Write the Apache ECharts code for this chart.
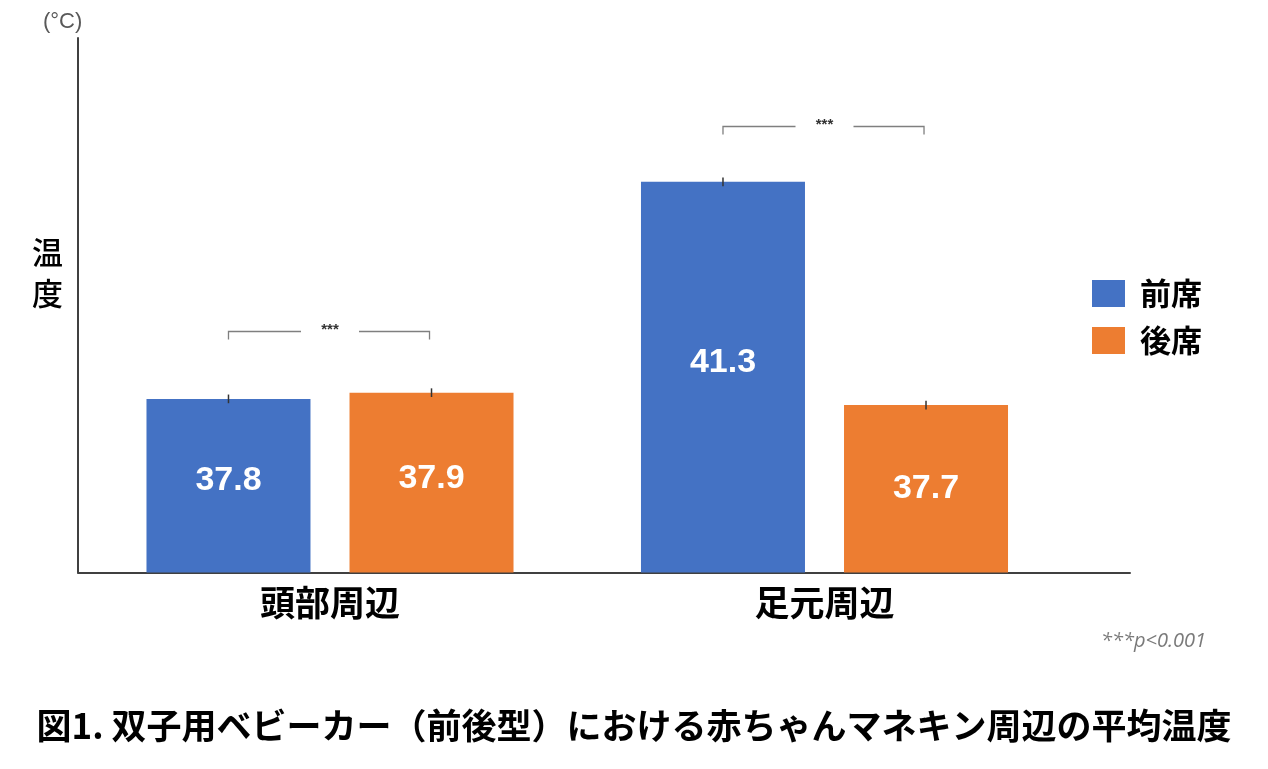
<!DOCTYPE html>
<html>
<head>
<meta charset="utf-8">
<script src="https://cdn.jsdelivr.net/npm/echarts@6/dist/echarts.min.js"></script>
<style>html,body{margin:0;padding:0;background:#fff}#c{width:1268px;height:769px}</style>
</head>
<body>
<div id="c"></div>
<script>
// ---- data ----
const categories = ['頭部周辺', '足元周辺'];
const seriesNames = ['前席', '後席'];
const frontValues = [37.8, 41.3];
const rearValues = [37.9, 37.7];
const frontErrors = [0.07, 0.07];
const rearErrors = [0.07, 0.07];
const sigLevels = [38.9, 42.2];
const sigMarks = ['***', '***'];
const yMin = 35;
const yMax = 43.62;
const noteText = '***p<0.001';
const unitText = '(°C)';
const yName = '温度';
const chartTitle = '図1. 双子用ベビーカー（前後型）における赤ちゃんマネキン周辺の平均温度';

// ---- style ----
const BLUE = '#4472C4', ORANGE = '#ED7D31';
const BAR_W = 164, BAR_GAP = 0.238;
const HALF = (BAR_W + BAR_W * BAR_GAP) / 2;
const JP = '"Noto Sans CJK JP", "Noto Sans", sans-serif';
const labelOffsets = [[[0, -5], [0, -15]], [[0, -4], [0, 0]]];

const chart = echarts.init(document.getElementById('c'));

function errRender(sign) {
  return function (params, api) {
    const i = api.value(0);
    const v = api.value(1), e = api.value(2);
    const top = api.coord([i, v + e]);
    const bot = api.coord([i, v - e]);
    const x = top[0] + sign * HALF;
    return {
      type: 'line',
      shape: { x1: x, y1: top[1], x2: x, y2: bot[1] },
      style: { stroke: '#333', lineWidth: 1.5 }
    };
  };
}

function sigRender(params, api) {
  const i = api.value(0);
  const c = api.coord([i, api.value(1)]);
  const cx = c[0], y = Math.round(c[1]) + 0.5;
  const l = cx - HALF, r = cx + HALF - 2, g = 29, t = 8;
  return {
    type: 'group',
    children: [
      { type: 'polyline', shape: { points: [[l, y + t], [l, y], [cx - g, y]] }, style: { stroke: '#7f7f7f', lineWidth: 1.3, fill: null } },
      { type: 'polyline', shape: { points: [[cx + g, y], [r, y], [r, y + t]] }, style: { stroke: '#7f7f7f', lineWidth: 1.3, fill: null } },
      { type: 'text', style: { text: sigMarks[params.dataIndex], x: cx, y: y - 2, align: 'center', verticalAlign: 'middle', font: 'bold 15px "Liberation Sans", Arial', fill: '#333' } }
    ]
  };
}

const option = {
  backgroundColor: '#fff',
  animation: false,
  title: [
    { text: chartTitle, left: 'center', top: 703, textStyle: { fontFamily: JP, fontSize: 35, fontWeight: 'bold', color: '#000' } },
    { text: unitText, left: 38, top: 6, textStyle: { fontFamily: '"Liberation Sans", Arial', fontSize: 22, fontWeight: 'normal', color: '#595959' } },
    { text: noteText, left: 1096, top: 626, textStyle: { fontFamily: '"Open Sans", "Liberation Sans", sans-serif', fontStyle: 'italic', fontSize: 20, fontWeight: 'normal', color: '#7a7a7a' } },
    { text: yName.split('').join('\n'), left: 27, top: 227, textStyle: { fontFamily: JP, fontSize: 31, fontWeight: 500, color: '#000', lineHeight: 41 } }
  ],
  legend: {
    data: seriesNames,
    orient: 'vertical',
    left: 1087, top: 273,
    itemWidth: 33, itemHeight: 27, itemGap: 16,
    icon: 'rect',
    textStyle: { fontFamily: JP, fontSize: 31, fontWeight: 'bold', color: '#000', padding: [0, 0, 0, 10] }
  },
  grid: [
    { left: 82.75, width: 989, top: 38, height: 534.5, containLabel: false },
    { left: 78, width: 1052, top: 38, height: 534.5, containLabel: false }
  ],
  xAxis: [
    {
      type: 'category', data: categories, gridIndex: 0,
      axisLine: { show: false }, axisTick: { show: false },
      axisLabel: { fontFamily: JP, fontSize: 35, fontWeight: 'bold', color: '#000', margin: 13 }
    },
    { type: 'value', gridIndex: 1, min: 0, max: 1, axisLine: { show: true, lineStyle: { color: '#404040', width: 2 } }, axisTick: { show: false }, axisLabel: { show: false }, splitLine: { show: false } }
  ],
  yAxis: [
    { type: 'value', gridIndex: 0, min: yMin, max: yMax, axisLine: { show: false }, axisTick: { show: false }, axisLabel: { show: false }, splitLine: { show: false } },
    { type: 'value', gridIndex: 1, min: 0, max: 1, axisLine: { show: true, lineStyle: { color: '#404040', width: 2 } }, axisTick: { show: false }, axisLabel: { show: false }, splitLine: { show: false } }
  ],
  series: [
    {
      name: seriesNames[0], type: 'bar', xAxisIndex: 0, yAxisIndex: 0,
      barWidth: BAR_W, barGap: (BAR_GAP * 100) + '%',
      itemStyle: { color: BLUE },
      data: frontValues.map((v, i) => ({ value: v, label: { offset: labelOffsets[0][i] } })),
      label: { show: true, position: 'inside', color: '#fff', fontFamily: '"Liberation Sans", Arial', fontSize: 34, fontWeight: 'bold' }
    },
    {
      name: seriesNames[1], type: 'bar', xAxisIndex: 0, yAxisIndex: 0,
      barWidth: BAR_W, barGap: (BAR_GAP * 100) + '%',
      itemStyle: { color: ORANGE },
      data: rearValues.map((v, i) => ({ value: v, label: { offset: labelOffsets[1][i] } })),
      label: { show: true, position: 'inside', color: '#fff', fontFamily: '"Liberation Sans", Arial', fontSize: 34, fontWeight: 'bold' }
    },
    {
      type: 'custom', xAxisIndex: 0, yAxisIndex: 0, renderItem: errRender(-1), z: 5,
      data: frontValues.map((v, i) => [i, v, frontErrors[i]])
    },
    {
      type: 'custom', xAxisIndex: 0, yAxisIndex: 0, renderItem: errRender(1), z: 5,
      data: rearValues.map((v, i) => [i, v, rearErrors[i]])
    },
    {
      type: 'custom', xAxisIndex: 0, yAxisIndex: 0, renderItem: sigRender, z: 5,
      data: sigLevels.map((v, i) => [i, v])
    }
  ]
};
chart.setOption(option);
</script>
</body>
</html>
